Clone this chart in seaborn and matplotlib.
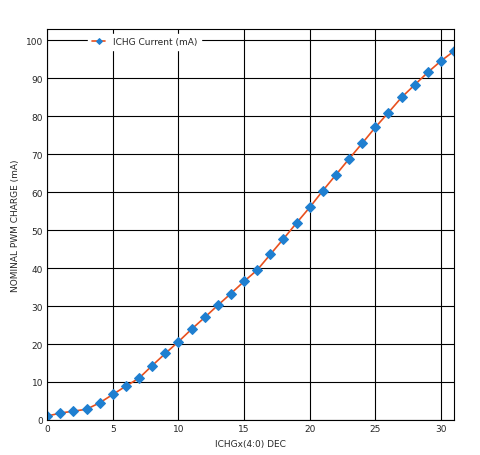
import matplotlib
matplotlib.use("Agg")
import matplotlib.pyplot as plt
import seaborn as sns
import pandas as pd

codes = list(range(32))
current = [1.0, 1.8, 2.3, 2.8, 4.5, 6.7, 8.9, 11.0, 14.3, 17.5, 20.6, 23.9, 27.0, 30.2,
           33.3, 36.5, 39.5, 43.6, 47.7, 51.9, 56.0, 60.4, 64.6, 68.8, 72.9, 77.1, 81.0,
           85.0, 88.3, 91.6, 94.6, 97.2]
df = pd.DataFrame({"code": codes, "ma": current})

sns.set_style("white")
fig = plt.figure(figsize=(4.81, 4.56), dpi=100)
ax = fig.add_axes([0.098, 0.077, 0.846, 0.857])
sns.lineplot(data=df, x="code", y="ma", ax=ax, color="#e8501e", lw=1.2,
             marker="D", markersize=5, markerfacecolor="#1f7fd0", markeredgecolor="#1f7fd0",
             label="ICHG Current (mA)")
ax.set_xlim(0, 31)
ax.set_ylim(0, 103)
ax.set_xticks(range(0, 31, 5))
ax.set_yticks(range(0, 101, 10))
ax.grid(True, color="black", lw=0.8)
for s in ax.spines.values():
    s.set_color("black"); s.set_linewidth(0.8)
ax.tick_params(labelsize=6.5, length=0, pad=3)
ax.set_xlabel("ICHGx(4:0) DEC", fontsize=6.5)
ax.set_ylabel("NOMINAL PWM CHARGE (mA)", fontsize=6.5)
leg = ax.legend(loc="upper left", bbox_to_anchor=(0.09, 1.0), fontsize=6.5, frameon=True,
                fancybox=False, edgecolor="white", framealpha=1, handlelength=1.5,
                markerscale=0.6)
fig.savefig("out.png", dpi=100)
